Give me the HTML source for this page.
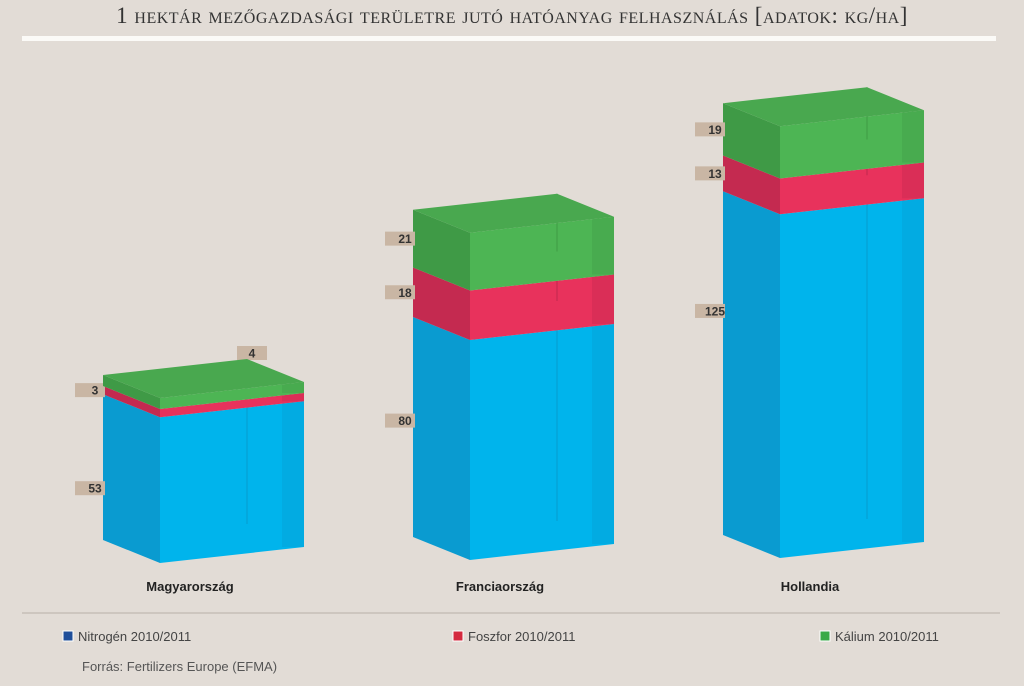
<!DOCTYPE html>
<html><head><meta charset="utf-8">
<style>
body{margin:0;background:#e2dcd6;}
#wrap{position:relative;width:1024px;height:686px;overflow:hidden;background:#e2dcd6;font-family:"Liberation Sans",sans-serif;}
.title{position:absolute;left:0;width:1024px;top:3px;text-align:center;font-family:"Liberation Serif",serif;font-variant:small-caps;font-size:23px;color:#333;letter-spacing:0.5px;}
</style></head><body>
<div id="wrap">
<div class="title">1 hektár mezőgazdasági területre jutó hatóanyag felhasználás [adatok: kg/ha]</div>
<svg id="svg" width="1024" height="686" style="position:absolute;left:0;top:0">
<rect x="22" y="36" width="974" height="5" fill="#fbfaf7"/>
<line x1="22" y1="613" x2="1000" y2="613" stroke="#b8b0a8" stroke-width="1"/>
<g id="bars"></g>
<g>
<rect x="63" y="631" width="10" height="10" fill="#1f4f9a" stroke="#fff" stroke-width="1"/>
<text x="78" y="641" font-size="13" fill="#444">Nitrogén 2010/2011</text>
<rect x="453" y="631" width="10" height="10" fill="#d42a3f" stroke="#fff" stroke-width="1"/>
<text x="468" y="641" font-size="13" fill="#444">Foszfor 2010/2011</text>
<rect x="820" y="631" width="10" height="10" fill="#3aaa48" stroke="#fff" stroke-width="1"/>
<text x="835" y="641" font-size="13" fill="#444">Kálium 2010/2011</text>
</g>
<text x="82" y="671" font-size="13" fill="#555">Forrás: Fertilizers Europe (EFMA)</text>
</svg>
</div>
<script>
const categories=["Magyarország","Franciaország","Hollandia"];
const nitrogen=[53,80,125];
const foszfor=[3,18,13];
const kalium=[4,21,19];
const seriesNames=["nitrogen","foszfor","kalium"];
const leftX=[103,413,723];
const baseY=[540,537,535];
const scale=2.75;
const DX=57,DY=23,BX=144,BY=-16;
const cols=[
 {left:"#0a9bd0",front:"#00b4ec",top:"#2bc0f0",edge:"#0891c4"},
 {left:"#c42a50",front:"#e8325c",top:"#f04a70",edge:"#b02448"},
 {left:"#3f9a46",front:"#4db554",top:"#49a84f",edge:"#3a8f40"}
];
const NS="http://www.w3.org/2000/svg";
const g=document.getElementById('bars');
function poly(pts,fill,name,op){const p=document.createElementNS(NS,'polygon');p.setAttribute('points',pts.map(q=>q.join(',')).join(' '));p.setAttribute('fill',fill);if(op)p.setAttribute('opacity',op);


g.appendChild(p);return p;}
function yv(v){return v*scale;}
categories.forEach((c,i)=>{
 const vals=[nitrogen[i],foszfor[i],kalium[i]];
 const L=leftX[i];let cum=0;
 vals.forEach((v,s)=>{
  const y0=baseY[i]-yv(cum), y1=baseY[i]-yv(cum+v);
  const col=cols[s];
  poly([[L+DX,y0+DY],[L+DX+BX,y0+DY+BY],[L+DX+BX,y1+DY+BY],[L+DX,y1+DY]],col.front,'bar-front-'+seriesNames[s]+'-'+i);
  poly([[L,y0],[L+DX,y0+DY],[L+DX,y1+DY],[L,y1]],col.left,'bar-side-'+seriesNames[s]+'-'+i);
  poly([[L+BX-1,y0+BY],[L+BX+1,y0+BY],[L+BX+1,y1+BY],[L+BX-1,y1+BY]],col.edge,'bar-back-edge-'+seriesNames[s]+'-'+i,0.35);
  poly([[L+BX+DX-22,y0+DY+BY],[L+BX+DX,y0+DY+BY],[L+BX+DX,y1+DY+BY],[L+BX+DX-22,y1+DY+BY]],col.edge,'bar-right-shade-'+seriesNames[s]+'-'+i,0.25);
  cum+=v;
  const h=yv(v);
  let lx=L-28, ly=y1+(h<60?h/2:75+h*0.13);
  if(s===2&&h<15){lx=L+BX-10;ly=y1+BY-6;}
  const r=document.createElementNS(NS,'rect');
  r.setAttribute('x',lx);r.setAttribute('y',ly-7);r.setAttribute('width',30);r.setAttribute('height',14);r.setAttribute('fill','#c9b6a4');
  
  
  g.appendChild(r);
  const t=document.createElementNS(NS,'text');
  t.setAttribute('x',lx+(s===2&&h<15?15:20));t.setAttribute('y',ly+4.5);t.setAttribute('font-size','12');t.setAttribute('font-weight','bold');t.setAttribute('fill','#333');t.setAttribute('text-anchor','middle');
  t.textContent=v;
  
  
  g.appendChild(t);
 });
 const topY=baseY[i]-yv(cum);
 poly([[L,topY],[L+BX,topY+BY],[L+BX+DX,topY+BY+DY],[L+DX,topY+DY]],cols[2].top,'bar-top-'+i);
 const t=document.createElementNS(NS,'text');
 t.setAttribute('x',L+DX+30);t.setAttribute('y',591);t.setAttribute('font-size','13');t.setAttribute('font-weight','bold');t.setAttribute('fill','#222');t.setAttribute('text-anchor','middle');
 t.textContent=c;
 
 
 g.appendChild(t);
});
</script>
</body></html>
